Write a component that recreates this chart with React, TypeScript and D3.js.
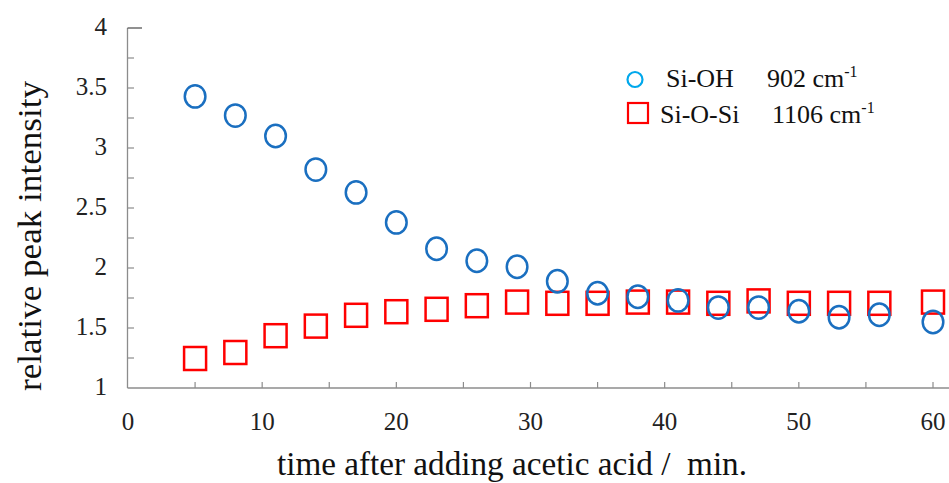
import React from "react";
import * as d3 from "d3";

// Minutes after adding acetic acid
const times = [5, 8, 11, 14, 17, 20, 23, 26, 29, 32, 35, 38, 41, 44, 47, 50, 53, 56, 60];
// Si-OH band at 902 cm-1
const siOH = [3.43, 3.27, 3.1, 2.82, 2.63, 2.38, 2.16, 2.06, 2.01, 1.89, 1.79, 1.76, 1.73, 1.67, 1.67, 1.64, 1.59, 1.61, 1.55];
// Si-O-Si band at 1106 cm-1
const siOSi = [1.25, 1.3, 1.44, 1.52, 1.61, 1.64, 1.66, 1.69, 1.72, 1.71, 1.71, 1.72, 1.72, 1.71, 1.73, 1.71, 1.71, 1.71, 1.72];

const xTickLabels = [0, 10, 20, 30, 40, 50, 60];
const yTickLabels = [1, 1.5, 2, 2.5, 3, 3.5, 4];

const W = 949;
const H = 483;
const FONT = "Liberation Serif, DejaVu Serif, Times New Roman, serif";
const AXIS = "#8c8c8c";

export default function App() {
  const x = d3.scaleLinear().domain([0, 60]).range([128, 933]);
  const y = d3.scaleLinear().domain([1, 4]).range([388, 28]);

  const minorY = d3.range(1.25, 4, 0.25);
  const minorX = d3.range(5, 65, 5);

  const sq = 22;
  const txt = { fontFamily: FONT };

  return (
    <svg
      width={W}
      height={H}
      style={{ position: "absolute", left: 0, top: 0, background: "#fff", fontFamily: FONT }}
    >
      {/* axes */}
      <line x1={x(0) - 0.5} x2={x(0) - 0.5} y1={y(4)} y2={y(1)} stroke={AXIS} strokeWidth={1.3} />
      <line x1={x(0) - 0.5} x2={W} y1={y(1)} y2={y(1)} stroke={AXIS} strokeWidth={1.3} />
      <line x1={x(0) - 0.5} x2={x(0) + 14} y1={y(4)} y2={y(4)} stroke="#555" strokeWidth={1.3} />
      {minorY.map((v) => (
        <line key={"ym" + v} x1={x(0)} x2={x(0) + 6} y1={y(v)} y2={y(v)} stroke={AXIS} strokeWidth={1.2} />
      ))}
      {minorX.map((t) => (
        <line key={"xm" + t} x1={x(t)} x2={x(t)} y1={y(1)} y2={y(1) - 6} stroke={AXIS} strokeWidth={1.2} />
      ))}

      {/* tick labels */}
      {yTickLabels.map((v) => (
        <text key={"yl" + v} x={107} y={y(v) + 7} fontSize={25} textAnchor="end" fill="#222" style={txt}>
          {v}
        </text>
      ))}
      {xTickLabels.map((t) => (
        <text key={"xl" + t} x={x(t)} y={430} fontSize={25} textAnchor="middle" fill="#222" style={txt}>
          {t}
        </text>
      ))}

      {/* axis titles */}
      <text
        transform={`translate(41, 236) rotate(-90)`}
        fontSize={33}
        textAnchor="middle"
        fill="#111"
        textLength={310}
        lengthAdjust="spacingAndGlyphs"
        style={txt}
      >
        relative peak intensity
      </text>
      <text
        x={512}
        y={475}
        fontSize={33}
        textAnchor="middle"
        fill="#111"
        textLength={470}
        lengthAdjust="spacingAndGlyphs"
        style={{ ...txt, whiteSpace: "pre" }}
      >
        time after adding acetic acid /  min.
      </text>

      {/* Si-O-Si squares */}
      {times.map((t, i) => (
        <rect
          key={"s" + t}
          x={x(t) - sq / 2}
          y={y(siOSi[i]) - sq / 2}
          width={sq}
          height={sq + 1}
          fill="none"
          stroke="#ff0000"
          strokeWidth={2.5}
        />
      ))}
      {/* Si-OH circles */}
      {times.map((t, i) => (
        <ellipse
          key={"c" + t}
          cx={x(t)}
          cy={y(siOH[i])}
          rx={10.3}
          ry={11.2}
          fill="none"
          stroke="#1a6fc0"
          strokeWidth={2.5}
        />
      ))}

      {/* legend */}
      <circle cx={635} cy={79.5} r={7.5} fill="none" stroke="#00a8ec" strokeWidth={2.2} />
      <text x={666} y={87} fontSize={26} fill="#111" style={txt}>Si-OH</text>
      <text x={767} y={87} fontSize={26} fill="#111" style={txt}>
        902 cm<tspan fontSize={16} dy={-10}>-1</tspan>
      </text>
      <rect x={628} y={103} width={20} height={20} fill="none" stroke="#ff0000" strokeWidth={2.2} />
      <text x={660} y={123} fontSize={26} fill="#111" style={txt}>Si-O-Si</text>
      <text x={772} y={123} fontSize={26} fill="#111" style={txt}>
        1106 cm<tspan fontSize={16} dy={-10}>-1</tspan>
      </text>
    </svg>
  );
}
